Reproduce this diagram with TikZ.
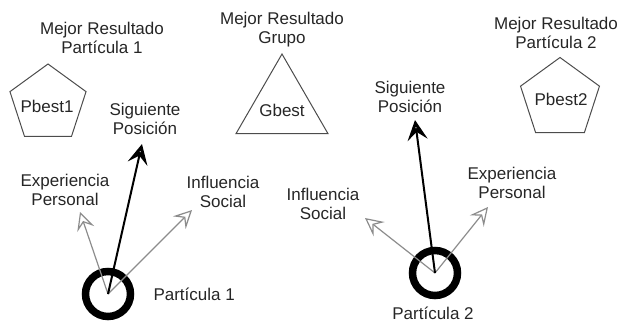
\documentclass[tikz,border=0pt]{standalone}
\usepackage{fontspec}
\setmainfont{Liberation Sans}
\usetikzlibrary{arrows.meta, shapes.geometric}

\begin{document}
\begin{tikzpicture}[
    x=1pt, y=-1pt,
    every node/.style={font=\fontsize{17}{19}\selectfont, text=black!85},
    caption/.style={align=center},
    best/.style={draw=black!70, line width=1pt, regular polygon, inner sep=0pt},
    particle/.style={draw, circle, line width=7.5pt, minimum size=45pt, inner sep=0pt},
    nextmove/.style={-{Stealth[length=20pt, width=20pt, inset=8pt, open, line width=3pt]}, line width=2pt, black},
    pull/.style={-{Stealth[length=18pt, width=18pt, inset=7pt, open, line width=1.2pt]}, line width=1.2pt, black!45}
]
    \useasboundingbox (0,0) rectangle (619,325);

    % Best results
    \node[caption] (mejor1) at (102,38) {Mejor Resultado\\Partícula 1};
    \node[best, regular polygon sides=5, minimum size=80pt] (pbest1) at (48,104) {};
    \node at (47,106) (pbest1text) {Pbest1};

    \node[caption] (mejorG) at (282,30) {Mejor Resultado\\Grupo};
    \node[best, regular polygon sides=3, minimum size=106pt] (gbest) at (282,107) {};
    \node at (282,110) (gbesttext) {Gbest};

    \node[caption] (mejor2) at (556,33) {Mejor Resultado\\Partícula 2};
    \node[best, regular polygon sides=5, minimum size=83pt] (pbest2) at (560,99) {};
    \node at (561,99) (pbest2text) {Pbest2};

    % Particle 1
    \node[particle] (p1) at (108,294) {};
    \node[anchor=west] (p1label) at (150,294) {Partícula 1};
    \node[caption] (sig1) at (145,119) {Siguiente\\Posición};
    \node[caption] (exp1) at (65,190) {Experiencia\\Personal};
    \node[caption] (inf1) at (223,192) {Influencia\\Social};
    \coordinate (sig1tip) at (142,144);
    \coordinate (exp1tip) at (80,212);
    \coordinate (inf1tip) at (192,210);

    % Particle 2
    \node[particle] (p2) at (435,273) {};
    \node (p2label) at (433,313) {Partícula 2};
    \node[caption] (sig2) at (410,97) {Siguiente\\Posición};
    \node[caption] (inf2) at (323,204) {Influencia\\Social};
    \node[caption] (exp2) at (512,183) {Experiencia\\Personal};
    \coordinate (sig2tip) at (415,120);
    \coordinate (inf2tip) at (365,218);
    \coordinate (exp2tip) at (488,207);

    % Velocity components
    \draw[pull] (p1.center) -- (exp1tip);
    \draw[pull] (p1.center) -- (inf1tip);
    \draw[nextmove] (p1.center) -- (sig1tip);

    \draw[pull] (p2.center) -- (inf2tip);
    \draw[pull] (p2.center) -- (exp2tip);
    \draw[nextmove] (p2.center) -- (sig2tip);

\end{tikzpicture}
\end{document}
